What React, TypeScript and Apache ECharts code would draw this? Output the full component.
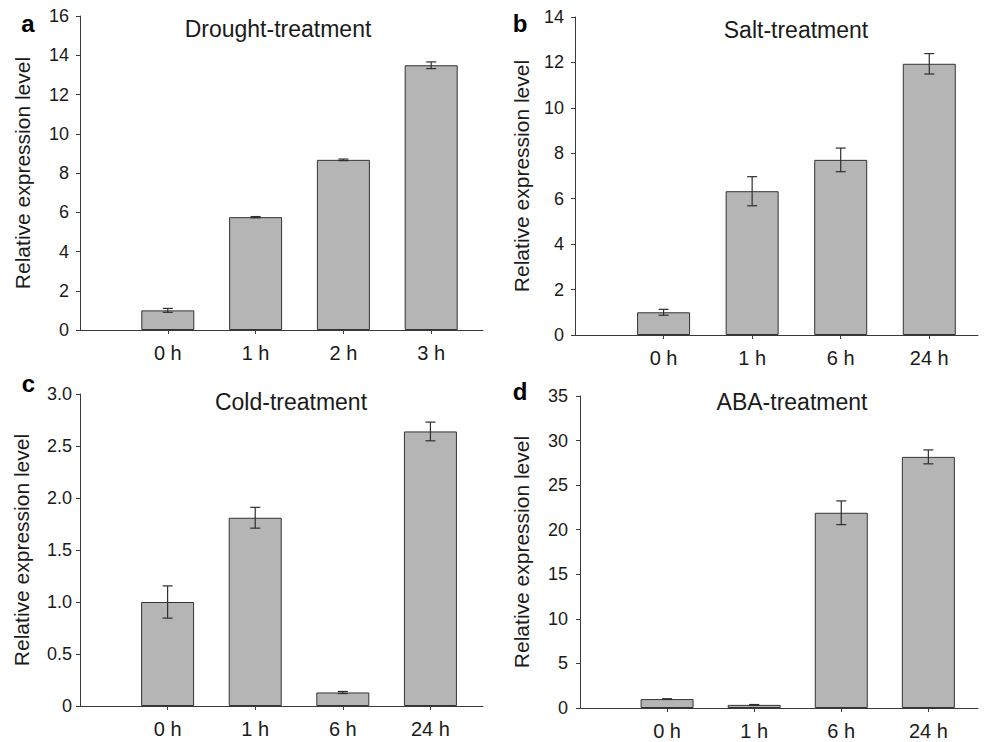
import React, { useEffect, useRef } from "react";
import * as echarts from "echarts";

const categoriesDrought = ["0 h", "1 h", "2 h", "3 h"];
const categoriesOther = ["0 h", "1 h", "6 h", "24 h"];

const droughtMeans = [1.0, 5.75, 8.67, 13.49];
const droughtErrors = [0.1, 0.03, 0.04, 0.17];
const saltMeans = [1.0, 6.33, 7.71, 11.94];
const saltErrors = [0.13, 0.64, 0.52, 0.45];
const coldMeans = [1.0, 1.81, 0.13, 2.64];
const coldErrors = [0.155, 0.1, 0.01, 0.09];
const abaMeans = [1.0, 0.35, 21.9, 28.17];
const abaErrors = [0.04, 0.04, 1.33, 0.78];

const titles = ["Drought-treatment", "Salt-treatment", "Cold-treatment", "ABA-treatment"];
const letters = ["a", "b", "c", "d"];
const yMax = [16, 14, 3, 35];
const yInterval = [2, 2, 0.5, 5];

const FONT = "'Liberation Sans', Arial, Helvetica, sans-serif";
const TEXT = "#1a1a1a";
const LINE = "#3a3a3a";

const panels = [
  { cats: categoriesDrought, means: droughtMeans, errs: droughtErrors, grid: { left: 80, top: 16, width: 403, height: 314 }, xMax: 4.59, nameGap: 47, labelMargin: 11, title: [278, 29], letter: [28, 23.5] },
  { cats: categoriesOther, means: saltMeans, errs: saltErrors, grid: { left: 575, top: 17, width: 403, height: 318 }, xMax: 4.55, nameGap: 43, labelMargin: 11, title: [796, 30], letter: [520, 23.5] },
  { cats: categoriesOther, means: coldMeans, errs: coldErrors, grid: { left: 80, top: 394, width: 403, height: 312 }, xMax: 4.6, nameGap: 48, labelMargin: 8, title: [291, 402], letter: [28.5, 383.5] },
  { cats: categoriesOther, means: abaMeans, errs: abaErrors, grid: { left: 580, top: 396, width: 398, height: 312 }, xMax: 4.57, nameGap: 48, labelMargin: 12, title: [792, 402], letter: [520, 391.5] },
];

export default function App() {
  const ref = useRef<HTMLDivElement>(null);
  useEffect(() => {
    if (!ref.current) return;
    const chart = echarts.init(ref.current, undefined, { renderer: "svg" });
    const grids: any[] = [];
    const xAxes: any[] = [];
    const yAxes: any[] = [];
    const series: any[] = [];
    const graphic: any[] = [];
    panels.forEach((p, i) => {
      grids.push({ ...p.grid, containLabel: false });
      const ticks = p.cats.map((_, k) => k + 1);
      xAxes.push({
        type: "value",
        gridIndex: i,
        min: 0,
        max: p.xMax,
        axisLine: { show: true, lineStyle: { color: LINE, width: 1 } },
        axisTick: { show: true, customValues: ticks, length: 4, lineStyle: { color: LINE } },
        axisLabel: {
          customValues: ticks,
          formatter: (v: number) => p.cats[Math.round(v) - 1] ?? "",
          fontSize: 20,
          fontFamily: FONT,
          color: TEXT,
          margin: 13,
        },
        splitLine: { show: false },
      });
      yAxes.push({
        type: "value",
        gridIndex: i,
        min: 0,
        max: yMax[i],
        interval: yInterval[i],
        name: "Relative expression level",
        nameLocation: "middle",
        nameGap: p.nameGap,
        nameTextStyle: { fontSize: 21, fontFamily: FONT, color: TEXT },
        axisLine: { show: true, lineStyle: { color: LINE, width: 1 } },
        axisTick: { show: true, length: 4, lineStyle: { color: LINE } },
        axisLabel: {
          fontSize: 18,
          fontFamily: FONT,
          color: TEXT,
          margin: p.labelMargin,
          formatter: (v: number) => (i === 2 ? (v === 0 ? "0" : v.toFixed(1)) : String(v)),
        },
        splitLine: { show: false },
      });
      series.push({
        type: "bar",
        xAxisIndex: i,
        yAxisIndex: i,
        barWidth: 53,
        data: p.means.map((v, k) => [k + 1, v]),
        itemStyle: { color: "#b5b5b5", borderColor: "#333333", borderWidth: 1 },
        z: 2,
      });
      series.push({
        type: "custom",
        xAxisIndex: i,
        yAxisIndex: i,
        z: 5,
        encode: { x: 0, y: [1, 2] },
        data: p.means.map((v, k) => [k + 1, v - p.errs[k], v + p.errs[k]]),
        renderItem: (params: any, api: any) => {
          const x = api.value(0);
          const hi = api.coord([x, api.value(2)]);
          const lo = api.coord([x, api.value(1)]);
          const hw = 5;
          const style = { stroke: "#2e2e2e", lineWidth: 1.2 };
          return {
            type: "group",
            children: [
              { type: "line", shape: { x1: hi[0], y1: hi[1], x2: lo[0], y2: lo[1] }, style },
              { type: "line", shape: { x1: hi[0] - hw, y1: hi[1], x2: hi[0] + hw, y2: hi[1] }, style },
              { type: "line", shape: { x1: lo[0] - hw, y1: lo[1], x2: lo[0] + hw, y2: lo[1] }, style },
            ],
          };
        },
      });
      graphic.push({
        type: "text",
        x: p.title[0],
        y: p.title[1],
        style: { text: titles[i], font: `23px ${FONT}`, fill: TEXT, textAlign: "center", textVerticalAlign: "middle" },
      });
      graphic.push({
        type: "text",
        x: p.letter[0],
        y: p.letter[1],
        style: { text: letters[i], font: `bold 24px ${FONT}`, fill: "#000", textAlign: "center", textVerticalAlign: "middle" },
      });
    });
    chart.setOption({
      animation: false,
      backgroundColor: "#ffffff",
      grid: grids,
      xAxis: xAxes,
      yAxis: yAxes,
      series,
      graphic,
    });
    return () => chart.dispose();
  }, []);
  return <div ref={ref} style={{ position: "fixed", left: 0, top: 0, width: 985, height: 742 }} />;
}
